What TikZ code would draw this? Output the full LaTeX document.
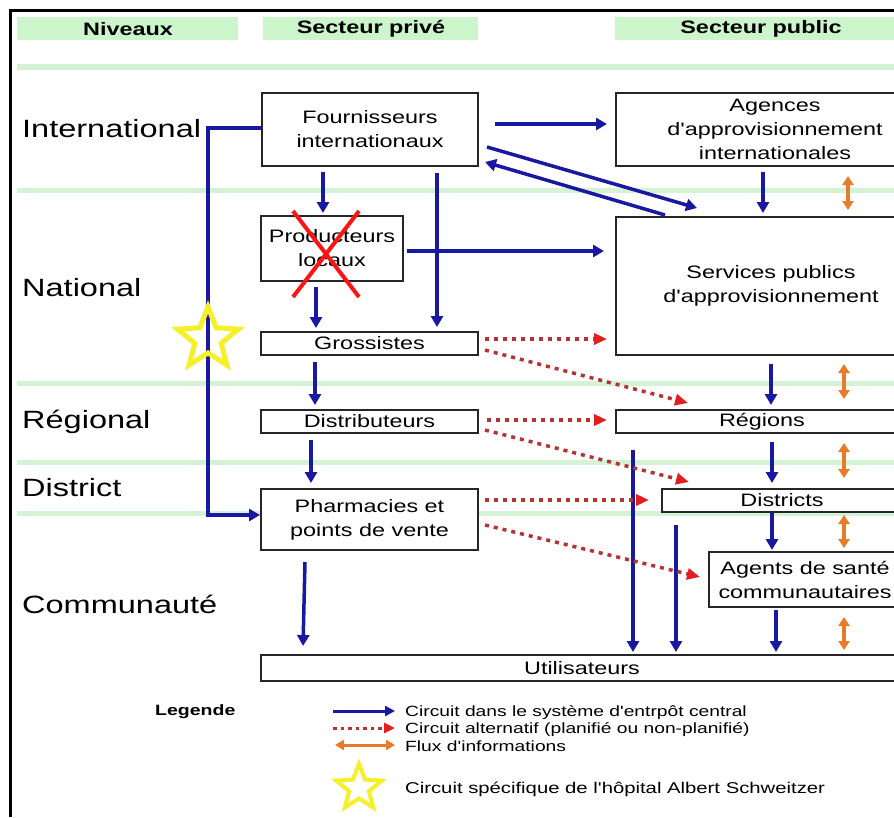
\documentclass[tikz,border=0pt]{standalone}
\usepackage{fontspec}
\setmainfont{Liberation Sans}[FakeStretch=1.3,Ligatures=TeXOff]
\usetikzlibrary{arrows.meta,shapes.geometric}
\definecolor{myblue}{RGB}{24,24,160}
\definecolor{dotred}{RGB}{185,50,50}
\definecolor{tipred}{RGB}{228,30,30}
\definecolor{orng}{RGB}{232,122,42}
\definecolor{glin}{RGB}{212,243,212}
\definecolor{band}{RGB}{204,245,204}
\definecolor{yel}{RGB}{246,240,40}
\definecolor{crossred}{RGB}{255,20,20}
\newcommand\boxfnt{\fontsize{18}{24}\selectfont}
\tikzset{
  box/.style={draw=black!85, line width=1.5pt, fill=white, inner sep=0pt, outer sep=0pt, align=center, font=\boxfnt},
  hdr/.style={font=\bfseries\fontsize{18}{22}\selectfont, inner sep=0pt},
  lvl/.style={font=\fontsize{25}{30}\selectfont, anchor=west, inner sep=0pt},
  blu/.style={draw=myblue, line width=3.5pt, -{Triangle[length=11pt,width=12pt]}},
  alt/.style={draw=dotred, line width=3.5pt, dash pattern=on 4pt off 5pt, -{Triangle[length=13pt,width=11pt,color=tipred]}},
  info/.style={draw=orng, line width=4pt, {Triangle[length=9pt,width=11pt]}-{Triangle[length=9pt,width=11pt]}},
  yelstar/.style={star, star points=5, star point ratio=2.3, draw=yel, inner sep=0pt},
  legtxt/.style={font=\fontsize{14.8}{17}\selectfont, anchor=west, inner sep=0pt},
}
\begin{document}
\begin{tikzpicture}[x=1pt,y=-1pt]
\useasboundingbox (0,0) rectangle (894,817);
\clip (0,0) rectangle (894,817);
\fill[white] (0,0) rectangle (894,817);
% frame
\draw[line width=3pt] (10,817) -- (10,10) -- (894,10);
% header bands
\fill[band] (17,17) rectangle (238,40);
\fill[band] (263,17) rectangle (478,40);
\fill[band] (615,17) rectangle (894,40);
\node[hdr] (h1) at (128,29) {Niveaux};
\node[hdr] (h2) at (371,29) {Secteur privé};
\node[hdr] (h3) at (761,29) {Secteur public};
% level separators
\draw[glin, line width=6pt] (17,67) -- (894,67);
\foreach \yy in {190,383,462,513} \draw[glin, line width=5pt] (17,\yy) -- (894,\yy);
% level labels
\node[lvl] (lint) at (22,129) {International};
\node[lvl] (lnat) at (22,288) {National};
\node[lvl] (lreg) at (22,422) {Régional};
\node[lvl] (ldis) at (22,488) {District};
\node[lvl] (lcom) at (22,604) {Communauté};
% private sector boxes
\node[box, minimum width=216pt, minimum height=73pt] (four) at (370,129.5) {Fournisseurs\\internationaux};
\node[box, minimum width=142pt, minimum height=65pt] (prod) at (332,248.5) {Producteurs\\locaux};
\node[box, minimum width=217pt, minimum height=23pt] (gros) at (369.5,343.5) {Grossistes};
\node[box, minimum width=217pt, minimum height=23pt] (dist) at (369.5,421.5) {Distributeurs};
\node[box, minimum width=217pt, minimum height=61pt] (pharm) at (369.5,519.5) {Pharmacies et\\points de vente};
\node[box, minimum width=642pt, minimum height=26pt] (util) at (582,668) {Utilisateurs};
% public sector boxes
\node[box, minimum width=318pt, minimum height=73pt] (agen) at (775,129.5) {Agences\\d'approvisionnement\\internationales};
\node[box, minimum width=310pt, minimum height=138pt] (serv) at (771,286) {Services publics\\d'approvisionnement};
\node[box, minimum width=292pt, minimum height=23pt] (reg) at (762,421.5) {Régions};
\node[box, minimum width=240pt, minimum height=23pt] (districts) at (782,500.5) {Districts};
\node[box, minimum width=192pt, minimum height=55pt] (agents) at (805,579.5) {Agents de santé\\communautaires};
% red cross on local producers
\draw[crossred, line width=4pt] ([shift={(-39,-37.5)}]prod.center) -- ([shift={(27,48.5)}]prod.center);
\draw[crossred, line width=4pt] ([shift={(27,-37.5)}]prod.center) -- ([shift={(-39,48.5)}]prod.center);
% blue flows
\draw[blu] ([shift={(17,-5.5)}]four.east) -- ([shift={(-9,-5.5)}]agen.west);
\draw[blu] ([shift={(9,17.5)}]four.east) -- ([shift={(-74,-9)}]serv.north);
\draw[blu] ([shift={(-106,-2)}]serv.north) -- ([shift={(7,32.5)}]four.east);
\draw[blu] ([shift={(-47,6)}]four.south) -- ([shift={(-9,-3)}]prod.north);
\draw[blu] ([shift={(67,7)}]four.south) -- ([shift={(67.5,-5)}]gros.north);
\draw[blu] ([shift={(4,2.5)}]prod.east) -- ([shift={(-12,-35)}]serv.west);
\draw[blu] ([shift={(-16,6)}]prod.south) -- ([shift={(-53.5,-4)}]gros.north);
\draw[blu] ([shift={(-54.5,7)}]gros.south) -- ([shift={(-54.5,-5)}]dist.north);
\draw[blu] ([shift={(-58.5,7)}]dist.south) -- ([shift={(-58.5,-6)}]pharm.north);
\draw[blu] ([shift={(-64.5,12)}]pharm.south) -- ([shift={(-279,-9)}]util.north);
\draw[blu] ([shift={(0,-1.5)}]four.west) -- ++(-54,0) |- ([shift={(-1,-4.5)}]pharm.west);
\draw[blu] ([shift={(-12,6)}]agen.south) -- ([shift={(-8,-4)}]serv.north);
\draw[blu] ([shift={(0,9)}]serv.south) -- ([shift={(9,-5)}]reg.north);
\draw[blu] ([shift={(10,9)}]reg.south) -- ([shift={(-10,-6)}]districts.north);
\draw[blu] ([shift={(-10,1)}]districts.south) -- ([shift={(-33,-2)}]agents.north);
\draw[blu] ([shift={(-29,3)}]agents.south) -- ([shift={(194,-3)}]util.north);
\draw[blu] ([shift={(-129,17)}]reg.south) -- ([shift={(51,-3)}]util.north);
\draw[blu] ([shift={(-106,13)}]districts.south) -- ([shift={(94,-3)}]util.north);
% alternative flows
\draw[alt] ([shift={(7,-4.5)}]gros.east) -- ([shift={(-9,53)}]serv.west);
\draw[alt] ([shift={(7,6.5)}]gros.east) -- ([shift={(-74,-7)}]reg.north);
\draw[alt] ([shift={(9,-1.5)}]dist.east) -- ([shift={(-9,-1.5)}]reg.west);
\draw[alt] ([shift={(7,8.5)}]dist.east) -- ([shift={(-93,-7)}]districts.north);
\draw[alt] ([shift={(7,-19.5)}]pharm.east) -- ([shift={(-13,-0.5)}]districts.west);
\draw[alt] ([shift={(7,5.5)}]pharm.east) -- ([shift={(-9,-2.5)}]agents.west);
% information flows
\draw[info] ([shift={(73,10)}]agen.south) -- ([shift={(77,-7)}]serv.north);
\draw[info] ([shift={(73,9)}]serv.south) -- ([shift={(82,-11)}]reg.north);
\draw[info] ([shift={(82,10)}]reg.south) -- ([shift={(62,-11)}]districts.north);
\draw[info] ([shift={(62,3)}]districts.south) -- ([shift={(39,-4)}]agents.north);
\draw[info] ([shift={(39,10)}]agents.south) -- ([shift={(262,-5)}]util.north);
% star on the hospital circuit
\node[yelstar, line width=5pt, minimum size=64pt] (star1) at (208,339) {};
% legend
\node[font=\bfseries\fontsize{15}{18}\selectfont, anchor=west, inner sep=0pt] (leg) at (155,712) {Legende};
\coordinate (lb1) at (333,711); \coordinate (lb2) at (395,711);
\coordinate (lr1) at (333,728); \coordinate (lr2) at (395,728);
\coordinate (lo1) at (335,745); \coordinate (lo2) at (395,745);
\draw[draw=myblue, line width=3pt, -{Triangle[length=10pt,width=10pt]}] (lb1) -- (lb2);
\draw[draw=dotred, line width=3pt, dash pattern=on 3.5pt off 4pt, -{Triangle[length=11pt,width=10pt,color=tipred]}] (lr1) -- (lr2);
\draw[draw=orng, line width=3pt, {Triangle[length=9pt,width=10pt]}-{Triangle[length=9pt,width=10pt]}] (lo1) -- (lo2);
\node[legtxt] (t1) at (405,713) {Circuit dans le système d'entrpôt central};
\node[legtxt] (t2) at (405,729.5) {Circuit alternatif (planifié ou non-planifié)};
\node[legtxt] (t3) at (405,746) {Flux d'informations};
\node[yelstar, line width=4pt, minimum size=48pt] (star2) at (359,788) {};
\node[legtxt, font=\fontsize{15.6}{18}\selectfont] (t4) at (405,789) {Circuit spécifique de l'hôpital Albert Schweitzer};
\end{tikzpicture}
\end{document}
